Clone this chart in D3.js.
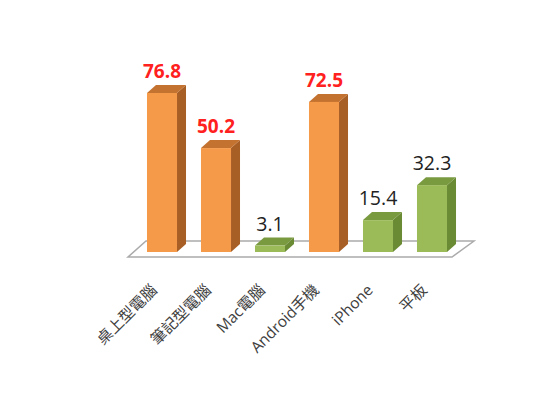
<!DOCTYPE html>
<html>
<head>
<meta charset="utf-8">
<script src="https://cdn.jsdelivr.net/npm/d3@7"></script>
<style>
  body { margin: 0; background: #fff; }
  svg { display: block; }
</style>
</head>
<body>
<svg width="550" height="404"></svg>
<script>
// data
var categories = ["桌上型電腦", "筆記型電腦", "Mac電腦", "Android手機", "iPhone", "平板"];
var values = [76.8, 50.2, 3.1, 72.5, 15.4, 32.3];
var groups = ["pc", "pc", "apple", "android", "apple", "apple"];

var svg = d3.select("svg"),
  width = +svg.attr("width"),
  height = +svg.attr("height");

var base = 252;    // y of bar bottoms
var dx = 9, dy = -8; // 3d depth offset

var x = d3.scaleBand()
  .domain(categories)
  .range([135, 459])
  .paddingInner(0.444)
  .paddingOuter(0.222);

var y = d3.scaleLinear()
  .domain([0, 76.8])
  .range([base, 93]);

var colors = {
  orange: { front: "#F59A48", side: "#A85F26", top: "#C4722F" },
  green:  { front: "#9BBB59", side: "#6A8A34", top: "#7A9A40" }
};
function col(i) { return groups[i] === "android" || groups[i] === "pc" ? colors.orange : colors.green; }

// floor
var floor = [[128, 257], [452, 257], [474, 241], [146, 241]];
svg.append("path")
  .attr("d", "M" + floor.join("L") + "Z")
  .attr("fill", "#fff")
  .attr("stroke", "#ABABAB")
  .attr("stroke-width", 1.5);

var g = svg.append("g");
var bw = x.bandwidth();

var bars = g.selectAll("g.bar")
  .data(values)
  .enter().append("g")
  .attr("class", "bar");

// side face
bars.append("path")
  .attr("d", function (d, i) {
    var x1 = x(categories[i]) + bw, yt = y(d);
    return "M" + x1 + "," + yt + "L" + (x1 + dx) + "," + (yt + dy) +
      "L" + (x1 + dx) + "," + (base + dy) + "L" + x1 + "," + base + "Z";
  })
  .attr("fill", function (d, i) { return col(i).side; });

// top face
bars.append("path")
  .attr("d", function (d, i) {
    var x0 = x(categories[i]), yt = y(d);
    return "M" + x0 + "," + yt + "L" + (x0 + dx) + "," + (yt + dy) +
      "L" + (x0 + bw + dx) + "," + (yt + dy) + "L" + (x0 + bw) + "," + yt + "Z";
  })
  .attr("fill", function (d, i) { return col(i).top; });

// front face
bars.append("rect")
  .attr("x", function (d, i) { return x(categories[i]); })
  .attr("y", function (d) { return y(d); })
  .attr("width", bw)
  .attr("height", function (d) { return base - y(d); })
  .attr("fill", function (d, i) { return col(i).front; });

// value labels
bars.append("text")
  .attr("x", function (d, i) { return x(categories[i]) + bw / 2; })
  .attr("y", function (d) { return y(d) - 15; })
  .attr("text-anchor", "middle")
  .style("font-family", "'Open Sans', 'Liberation Sans', sans-serif")
  .style("font-size", function (d, i) { return col(i) === colors.orange ? "19px" : "19.5px"; })
  .style("font-weight", function (d, i) { return col(i) === colors.orange ? "bold" : "normal"; })
  .attr("fill", function (d, i) { return col(i) === colors.orange ? "#FF2020" : "#222"; })
  .text(function (d) { return d.toFixed(1); });

// category labels
svg.append("g").selectAll("text")
  .data(categories)
  .enter().append("text")
  .attr("transform", function (d) {
    return "translate(" + (x(d) + bw / 2 - 4) + ",291) rotate(-45)";
  })
  .attr("text-anchor", "end")
  .style("font-family", "'Open Sans', 'Noto Sans CJK TC', sans-serif")
  .style("font-size", "15.5px")
  .attr("fill", "#404040")
  .text(function (d) { return d; });
</script>
</body>
</html>
